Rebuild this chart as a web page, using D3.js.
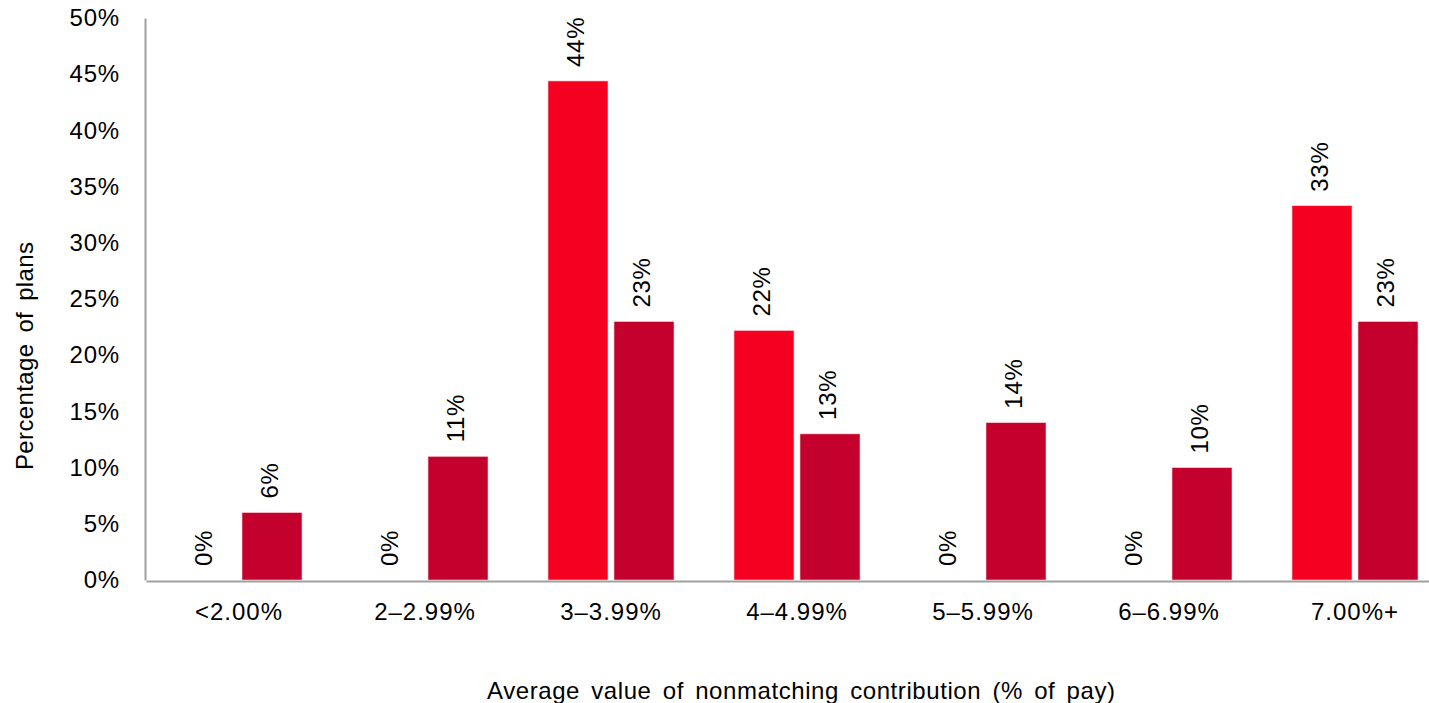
<!DOCTYPE html>
<html>
<head>
<meta charset="utf-8">
<script src="https://cdn.jsdelivr.net/npm/d3@7"></script>
<style>
  html, body { margin: 0; padding: 0; background: #fff; }
  svg { display: block; }
  text { font-family: "Liberation Sans", Arial, sans-serif; fill: #000; }
</style>
</head>
<body>
<svg id="chart" width="1429" height="703"></svg>
<script>
const categories = ["<2.00%", "2\u20132.99%", "3\u20133.99%", "4\u20134.99%", "5\u20135.99%", "6\u20136.99%", "7.00%+"];
const seriesNames = ["A", "B"];
const seriesA = [0, 0, 44.4, 22.2, 0, 0, 33.3];
const seriesB = [6, 11, 23, 13, 14, 10, 23];
const labelsA = ["0%", "0%", "44%", "22%", "0%", "0%", "33%"];
const labelsB = ["6%", "11%", "23%", "13%", "14%", "10%", "23%"];
const yTicks = [0, 5, 10, 15, 20, 25, 30, 35, 40, 45, 50];
const colors = ["#F60021", "#C4002D"];
const xTitle = "Average value of nonmatching contribution (% of pay)";
const yTitle = "Percentage of plans";

(function () {
const svg = d3.select("#chart");
const mLeft = 146, mRight = 1448, mTop = 18, mBottom = 580;

const x = d3.scaleBand().domain(categories).range([mLeft, mRight])
  .paddingInner(60/186).paddingOuter(30/186);
const xs = d3.scaleBand().domain(seriesNames).range([0, x.bandwidth()])
  .paddingInner(6/66).paddingOuter(0);
const y = d3.scaleLinear().domain([0, 50]).range([mBottom, mTop]);

const rows = categories.map((c, i) => ({
  cat: c,
  vals: [
    {s: "A", v: seriesA[i], label: labelsA[i], color: colors[0]},
    {s: "B", v: seriesB[i], label: labelsB[i], color: colors[1]}
  ]
}));

const g = svg.selectAll("g.cat").data(rows).join("g")
  .attr("class", "cat")
  .attr("transform", d => `translate(${x(d.cat)},0)`);

g.selectAll("rect").data(d => d.vals.filter(v => v.v > 0)).join("rect")
  .attr("x", d => xs(d.s))
  .attr("y", d => y(d.v))
  .attr("width", xs.bandwidth())
  .attr("height", d => y(0) - y(d.v))
  .attr("fill", d => d.color)
  .attr("stroke", "#ffd0d8")
  .attr("stroke-width", 0.6);

g.selectAll("text.lbl").data(d => d.vals).join("text")
  .attr("class", "lbl")
  .attr("transform", d => `translate(${xs(d.s) + xs.bandwidth()/2},${y(d.v) - 14}) rotate(-90)`)
  .attr("text-anchor", "start")
  .attr("dominant-baseline", "middle")
  .style("font-size", "24px")
  .style("letter-spacing", "0.7px")
  .text(d => d.label);

// y axis
const yAxis = d3.axisLeft(y).tickValues(yTicks).tickSize(0).tickPadding(25)
  .tickFormat(d => d + "%");
const ya = svg.append("g").attr("transform", `translate(${mLeft - 1},0)`).call(yAxis);
ya.select(".domain").attr("stroke", "#a0a0a0").attr("stroke-width", 2);
ya.selectAll("text").style("font-size", "24px").style("letter-spacing", "0.8px")
  .attr("fill", "#000").attr("font-family", "Liberation Sans, Arial, sans-serif");

// x axis
const xAxis = d3.axisBottom(x).tickSize(0).tickPadding(22);
const xa = svg.append("g").attr("transform", `translate(0,${mBottom + 1})`).call(xAxis);
xa.select(".domain").attr("stroke", "#a0a0a0").attr("stroke-width", 2);
xa.selectAll("text").style("font-size", "24px").style("letter-spacing", "1px")
  .attr("fill", "#000").attr("font-family", "Liberation Sans, Arial, sans-serif");

// titles
svg.append("text")
  .attr("x", 801).attr("y", 699)
  .attr("text-anchor", "middle")
  .attr("textLength", 628)
  .attr("lengthAdjust", "spacing")
  .style("font-size", "24px")
  .style("word-spacing", "4px")
  .text(xTitle);

svg.append("text")
  .attr("transform", "translate(33,356) rotate(-90)")
  .attr("text-anchor", "middle")
  .attr("textLength", 228)
  .attr("lengthAdjust", "spacing")
  .style("font-size", "24px")
  .style("word-spacing", "4px")
  .text(yTitle);
})();
</script>
</body>
</html>
